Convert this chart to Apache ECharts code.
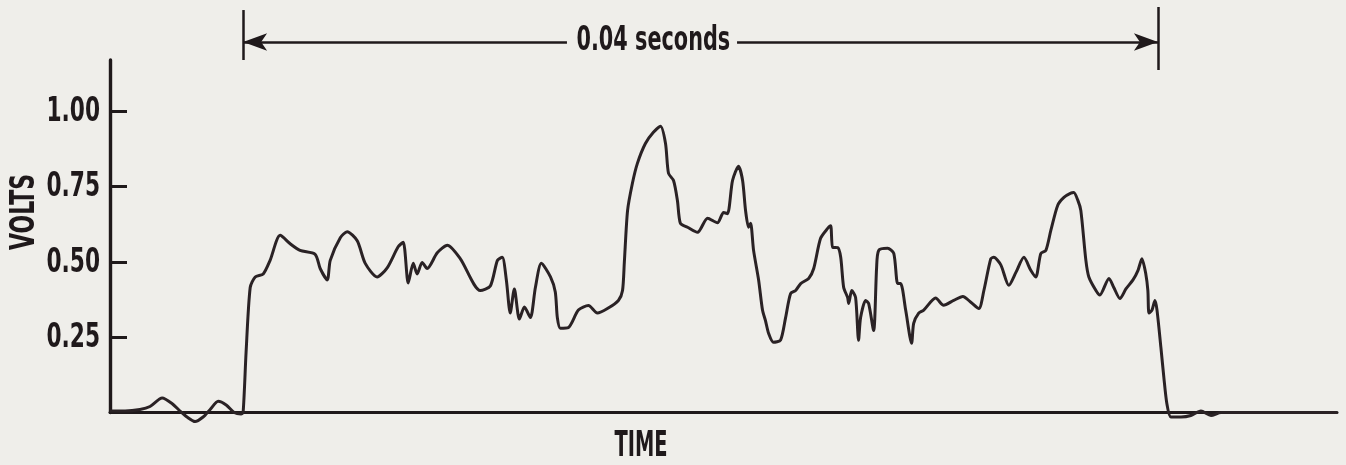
<!DOCTYPE html>
<html>
<head>
<meta charset="utf-8">
<script src="https://cdn.jsdelivr.net/npm/echarts@6/dist/echarts.min.js"></script>
<style>
  html, body { margin: 0; padding: 0; background: #efeeea; }
  #chart { width: 1346px; height: 465px; }
</style>
</head>
<body>
<div id="chart"></div>
<script>
// ---- data (time in milliseconds, 0 = start of pulse; signal in volts) ----
const timeMs = [
  -5.82, -5.16, -4.51, -4.07, -3.54, -3.11, -2.76, -2.45, -2.10, -1.75, -1.44, -1.09, -0.74, -0.39, -0.09,
  0.00, 0.13, 0.31, 0.53, 0.88, 1.18, 1.62, 2.06, 2.49, 3.15, 3.37, 3.68, 3.81, 4.25, 4.55, 4.99,
  5.34, 5.86, 6.30, 6.78, 7.00, 7.22, 7.44, 7.61, 7.83, 8.05, 8.49, 8.93, 9.50, 10.37, 10.81,
  11.12, 11.33, 11.51, 11.68, 11.86, 12.08, 12.30, 12.56, 12.78, 13.04, 13.44, 13.65, 13.74, 13.87,
  14.22, 14.66, 15.10, 15.49, 15.93, 16.41, 16.59, 16.67, 16.81, 17.02, 17.24, 17.59, 17.94, 18.25,
  18.47, 18.60, 18.82, 18.99, 19.12, 19.43, 19.87, 20.31, 20.74, 21.01, 21.18, 21.40, 21.66, 21.84,
  21.97, 22.10, 22.19, 22.32, 22.54, 22.71, 22.84, 22.98, 23.19, 23.50, 23.72, 23.94, 24.16, 24.38,
  24.73, 24.95, 25.25, 25.56, 25.69, 25.78, 26.00, 26.13, 26.26, 26.43, 26.48, 26.61, 26.78, 26.91,
  27.00, 27.22, 27.35, 27.57, 27.70, 27.79, 28.18, 28.45, 28.62, 28.75, 28.97, 29.23, 29.32, 29.54,
  29.76, 30.28, 30.63, 31.07, 31.47, 31.82, 32.17, 32.39, 32.69, 32.82, 33.13, 33.48, 33.79, 34.14,
  34.44, 34.66, 34.88, 35.10, 35.32, 35.62, 35.89, 36.19, 36.32, 36.50, 36.63, 36.85, 36.98, 37.29,
  37.46, 37.86, 38.07, 38.34, 38.60, 38.91, 39.13, 39.30, 39.47, 39.56, 39.61, 39.74, 39.87, 39.96,
  40.13, 40.26, 40.39, 40.57, 41.01, 41.44, 41.88, 42.32, 42.76, 47.83
];
const volts = [
  0.005, 0.005, 0.010, 0.020, 0.048, 0.030, 0.005, -0.015, -0.030, -0.015, 0.010, 0.037, 0.025, 0.000, -0.005,
  0.000, 0.200, 0.415, 0.450, 0.460, 0.505, 0.588, 0.560, 0.538, 0.525, 0.478, 0.440, 0.505, 0.580, 0.600, 0.570,
  0.495, 0.450, 0.480, 0.550, 0.565, 0.430, 0.495, 0.460, 0.498, 0.478, 0.530, 0.555, 0.510, 0.405, 0.420,
  0.505, 0.515, 0.440, 0.330, 0.410, 0.310, 0.350, 0.315, 0.415, 0.495, 0.450, 0.400, 0.315, 0.280,
  0.282, 0.340, 0.355, 0.330, 0.345, 0.372, 0.405, 0.500, 0.670, 0.760, 0.827, 0.893, 0.930, 0.950,
  0.893, 0.794, 0.770, 0.704, 0.628, 0.615, 0.598, 0.645, 0.630, 0.664, 0.660, 0.770, 0.817, 0.770,
  0.670, 0.615, 0.628, 0.538, 0.440, 0.340, 0.305, 0.262, 0.233, 0.240, 0.315, 0.395, 0.405, 0.428,
  0.445, 0.478, 0.578, 0.611, 0.620, 0.548, 0.547, 0.515, 0.415, 0.382, 0.362, 0.405, 0.382, 0.240,
  0.315, 0.372, 0.362, 0.272, 0.482, 0.538, 0.545, 0.528, 0.428, 0.428, 0.340, 0.230, 0.296, 0.330,
  0.340, 0.380, 0.356, 0.372, 0.385, 0.366, 0.345, 0.405, 0.510, 0.515, 0.490, 0.422, 0.465, 0.515,
  0.472, 0.450, 0.528, 0.538, 0.605, 0.688, 0.714, 0.728, 0.730, 0.704, 0.670, 0.505, 0.450, 0.405,
  0.390, 0.445, 0.415, 0.378, 0.410, 0.440, 0.472, 0.510, 0.460, 0.405, 0.330, 0.340, 0.372, 0.340,
  0.216, 0.116, 0.030, -0.015, -0.015, -0.010, 0.005, -0.010, 0.000, 0.000
];
const yTickValues = [0.25, 0.50, 0.75, 1.00];
const spanStartMs = 0;      // start of the marked interval
const spanEndMs = 40;       // end of the marked interval (0.04 s)
const spanLabel = '0.04 seconds';
const yAxisTitle = 'VOLTS';
const xAxisTitle = 'TIME';

// ---- chart ----
const INK = '#1f191b';
const BG = '#efeeea';
const FONT = "'Liberation Sans Narrow', 'DejaVu Sans Condensed', 'Roboto Condensed', sans-serif";
const X_MIN = -5.82, X_MAX = 47.83;
const ARROW_LEVEL = 0.456;

const seriesData = timeMs.map((t, i) => [t, volts[i]]);

const chart = echarts.init(document.getElementById('chart'), null, { renderer: 'canvas' });
chart.setOption({
  backgroundColor: BG,
  animation: false,
  grid: [
    { left: 110, right: 9, top: 60, bottom: 52.5 },
    { left: 110, right: 9, top: 5, height: 68 }
  ],
  xAxis: [
    {
      type: 'value', gridIndex: 0, min: X_MIN, max: X_MAX,
      axisLine: { show: true, onZero: false, lineStyle: { color: INK, width: 3 } },
      axisTick: { show: false }, axisLabel: { show: false }, splitLine: { show: false }
    },
    {
      type: 'value', gridIndex: 1, min: X_MIN, max: X_MAX, show: false
    }
  ],
  yAxis: [
    {
      type: 'value', gridIndex: 0, min: 0, max: 1.17,
      axisLine: { show: true, onZero: false, lineStyle: { color: INK, width: 3.4 } },
      axisTick: {
        show: true, inside: true, length: 17, customValues: yTickValues,
        lineStyle: { color: INK, width: 3 }
      },
      axisLabel: { show: false },
      splitLine: { show: false }
    },
    { type: 'value', gridIndex: 1, min: 0, max: 1, show: false }
  ],
  series: [
    {
      type: 'line', xAxisIndex: 0, yAxisIndex: 0,
      data: seriesData, showSymbol: false, symbol: 'none',
      smooth: 0.25, silent: true, clip: false,
      lineStyle: { color: '#2a2225', width: 3 }
    },
    {
      // condensed y tick labels, placed through the axis scale
      type: 'custom', xAxisIndex: 0, yAxisIndex: 0, silent: true, clip: false,
      data: yTickValues.map(v => [X_MIN, v]),
      renderItem: function (params, api) {
        const v = api.value(1);
        const p = api.coord([api.value(0), v]);
        return {
          type: 'text', x: p[0] - 10, y: p[1] + 1, scaleX: 0.71, scaleY: 1,
          style: {
            text: v.toFixed(2), fill: INK, font: "bold 34px " + FONT,
            align: 'right', verticalAlign: 'middle'
          }
        };
      }
    },
    {
      type: 'line', xAxisIndex: 1, yAxisIndex: 1, data: [], silent: true,
      markLine: {
        silent: true, animation: false,
        label: { show: false },
        emphasis: { disabled: true },
        lineStyle: { color: INK, width: 2.5, type: 'solid' },
        symbol: ['none', 'none'],
        data: [
          [
            { coord: [spanStartMs, ARROW_LEVEL], symbol: 'arrow', symbolSize: [13, 24] },
            { coord: [spanEndMs, ARROW_LEVEL], symbol: 'arrow', symbolSize: [13, 24] }
          ],
          [
            { coord: [spanStartMs, 0.926] },
            { coord: [spanStartMs, 0.191] }
          ],
          [
            { coord: [spanEndMs, 0.971] },
            { coord: [spanEndMs, 0.044] }
          ]
        ]
      }
    }
  ],
  graphic: [
    {
      type: 'text', z: 100, x: 25, y: 212, rotation: Math.PI / 2, scaleX: 0.72, scaleY: 1,
      style: {
        text: yAxisTitle, fill: INK, font: "bold 34px " + FONT,
        align: 'center', verticalAlign: 'middle'
      }
    },
    {
      type: 'text', z: 100, x: 641, y: 447, scaleX: 0.6, scaleY: 1,
      style: {
        text: xAxisTitle, fill: INK, font: "bold 36px " + FONT,
        align: 'center', verticalAlign: 'middle'
      }
    },
    {
      type: 'text', z: 100, x: 652, y: 41, scaleX: 0.68, scaleY: 1,
      style: {
        text: spanLabel, fill: INK, font: "bold 34px " + FONT,
        align: 'center', verticalAlign: 'middle',
        backgroundColor: BG, padding: [2, 10, 2, 14]
      }
    }
  ]
});
</script>
</body>
</html>
